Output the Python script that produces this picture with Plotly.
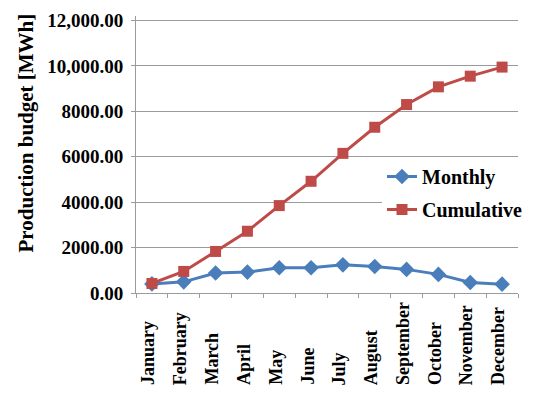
import plotly.graph_objects as go

months = ["January", "February", "March", "April", "May", "June", "July",
          "August", "September", "October", "November", "December"]
monthly = [400, 490, 880, 920, 1110, 1110, 1240, 1170, 1040, 820, 460, 390]
cumulative = [420, 950, 1830, 2720, 3850, 4920, 6150, 7300, 8300, 9080, 9550, 9950]
y_tickvals = [0, 2000, 4000, 6000, 8000, 10000, 12000]
y_ticktext = ["0.00", "2000.00", "4000.00", "6000.00", "8000.00", "10,000.00", "12,000.00"]

FONT = "Liberation Serif, Times New Roman, serif"
BLUE = "#4A7EBB"
RED = "#BE4B48"
GRID = "#9a9a9a"

# the page body adds an 8px offset; positions below are window pixels
OFF = 8
W, H = 550, 401
PL, PR, PT, PB = 136, 518, 16, 293          # plot area in window pixels
L, T = PL - OFF, PT - OFF
R, B = W - (PR - OFF), H - (PB - OFF)
plot_h = (PB - PT)
plot_w = (PR - PL)


def px_x(xw):
    return (xw - PL) / plot_w


def px_y(yw):
    return (PB - yw) / plot_h


fig = go.Figure()
fig.add_trace(go.Scatter(
    x=months, y=monthly, name="Monthly", mode="lines+markers",
    line=dict(color=BLUE, width=3),
    marker=dict(symbol="diamond", size=12, color=BLUE),
    legendgroup="a",
))
fig.add_trace(go.Scatter(
    x=months, y=cumulative, name="Cumulative", mode="lines+markers",
    line=dict(color=RED, width=3),
    marker=dict(symbol="square", size=11, color=RED),
    legendgroup="b",
))

annotations = []
for m in months:
    annotations.append(dict(
        x=m, xref="x", y=px_y(387), yref="paper",
        text="<b>%s</b>" % m, textangle=-90, showarrow=False,
        xanchor="center", yanchor="bottom", xshift=-4,
        font=dict(family=FONT, size=18, color="black"),
    ))
annotations.append(dict(
    x=px_x(25.5), xref="paper",
    y=px_y(133), yref="paper",
    text="<b>Production budget [MWh]</b>", textangle=-90, showarrow=False,
    xanchor="center", yanchor="middle",
    font=dict(family=FONT, size=21, color="black"),
))

fig.update_layout(
    template="none",
    width=W, height=H,
    margin=dict(l=L, r=R, t=T, b=B, autoexpand=False),
    paper_bgcolor="white", plot_bgcolor="white",
    font=dict(family=FONT, color="black"),
    showlegend=True,
    legend=dict(
        x=px_x(382), xanchor="left",
        y=px_y(157), yanchor="top",
        bgcolor="white", borderwidth=0,
        font=dict(family=FONT, size=20, color="black", weight="bold"),
        traceorder="grouped", tracegroupgap=4,
    ),
    xaxis=dict(
        type="category", range=[-0.5, 11.5], automargin=False,
        showticklabels=False, showgrid=False,
        showline=True, linecolor=GRID, linewidth=1,
        ticks="outside", ticklen=4, tickcolor=GRID, tickson="boundaries",
    ),
    yaxis=dict(
        range=[0, 12200], tickvals=y_tickvals, ticktext=y_ticktext,
        automargin=False, ticklabeloverflow="allow",
        showgrid=True, gridcolor=GRID, gridwidth=1,
        showline=True, linecolor=GRID, linewidth=1,
        ticks="outside", ticklen=4, tickcolor=GRID,
        ticklabelstandoff=4,
        zeroline=False,
        tickfont=dict(family=FONT, size=19, color="black", weight="bold"),
    ),
    annotations=annotations,
)

fig.write_html("out.html")
